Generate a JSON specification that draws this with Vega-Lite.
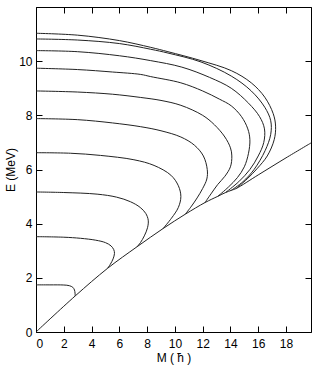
{
  "$schema": "https://vega.github.io/schema/vega-lite/v6.json",
  "autosize": {"type": "none"},
  "padding": {"left": 36, "top": 7, "right": 8, "bottom": 38},
  "width": 275,
  "height": 325,
  "data": {"values": [
    {"curve":0,"i":0,"M":0,"E":0},{"curve":0,"i":1,"M":2.82,"E":1.33},{"curve":0,"i":2,"M":5.15,"E":2.35},{"curve":0,"i":3,"M":7.28,"E":3.15},{"curve":0,"i":4,"M":9.15,"E":3.82},{"curve":0,"i":5,"M":10.75,"E":4.35},{"curve":0,"i":6,"M":12.17,"E":4.78},{"curve":0,"i":7,"M":13.09,"E":5.01},{"curve":0,"i":8,"M":13.65,"E":5.15},{"curve":0,"i":9,"M":14.06,"E":5.23},{"curve":0,"i":10,"M":14.42,"E":5.30},{"curve":0,"i":11,"M":16,"E":5.8},{"curve":0,"i":12,"M":18,"E":6.43},{"curve":0,"i":13,"M":19.8,"E":6.98},
    {"curve":1,"i":0,"M":0,"E":1.74},{"curve":1,"i":1,"M":1,"E":1.74},{"curve":1,"i":2,"M":2,"E":1.735},{"curve":1,"i":3,"M":2.4,"E":1.71},{"curve":1,"i":4,"M":2.65,"E":1.65},{"curve":1,"i":5,"M":2.77,"E":1.55},{"curve":1,"i":6,"M":2.81,"E":1.44},{"curve":1,"i":7,"M":2.82,"E":1.33},
    {"curve":2,"i":0,"M":0,"E":3.52},{"curve":2,"i":1,"M":2,"E":3.5},{"curve":2,"i":2,"M":3.2,"E":3.46},{"curve":2,"i":3,"M":4.3,"E":3.39},{"curve":2,"i":4,"M":5.0,"E":3.3},{"curve":2,"i":5,"M":5.4,"E":3.18},{"curve":2,"i":6,"M":5.6,"E":3.04},{"curve":2,"i":7,"M":5.65,"E":2.9},{"curve":2,"i":8,"M":5.55,"E":2.7},{"curve":2,"i":9,"M":5.35,"E":2.5},{"curve":2,"i":10,"M":5.15,"E":2.35},
    {"curve":3,"i":0,"M":0,"E":5.17},{"curve":3,"i":1,"M":2,"E":5.15},{"curve":3,"i":2,"M":4.4,"E":5.09},{"curve":3,"i":3,"M":5.8,"E":4.98},{"curve":3,"i":4,"M":6.8,"E":4.81},{"curve":3,"i":5,"M":7.5,"E":4.6},{"curve":3,"i":6,"M":7.9,"E":4.38},{"curve":3,"i":7,"M":8.08,"E":4.13},{"curve":3,"i":8,"M":8.03,"E":3.85},{"curve":3,"i":9,"M":7.8,"E":3.55},{"curve":3,"i":10,"M":7.52,"E":3.3},{"curve":3,"i":11,"M":7.28,"E":3.15},
    {"curve":4,"i":0,"M":0,"E":6.62},{"curve":4,"i":1,"M":2.5,"E":6.6},{"curve":4,"i":2,"M":4.64,"E":6.52},{"curve":4,"i":3,"M":7.05,"E":6.36},{"curve":4,"i":4,"M":8.5,"E":6.15},{"curve":4,"i":5,"M":9.71,"E":5.79},{"curve":4,"i":6,"M":10.25,"E":5.4},{"curve":4,"i":7,"M":10.43,"E":5.0},{"curve":4,"i":8,"M":10.25,"E":4.6},{"curve":4,"i":9,"M":9.75,"E":4.2},{"curve":4,"i":10,"M":9.15,"E":3.82},
    {"curve":5,"i":0,"M":0,"E":7.88},{"curve":5,"i":1,"M":3,"E":7.84},{"curve":5,"i":2,"M":5.5,"E":7.72},{"curve":5,"i":3,"M":7.54,"E":7.58},{"curve":5,"i":4,"M":9,"E":7.43},{"curve":5,"i":5,"M":10.43,"E":7.2},{"curve":5,"i":6,"M":11.4,"E":6.9},{"curve":5,"i":7,"M":12.05,"E":6.5},{"curve":5,"i":8,"M":12.33,"E":6.0},{"curve":5,"i":9,"M":12.3,"E":5.65},{"curve":5,"i":10,"M":12.0,"E":5.3},{"curve":5,"i":11,"M":11.6,"E":4.95},{"curve":5,"i":12,"M":11.2,"E":4.65},{"curve":5,"i":13,"M":10.75,"E":4.35},
    {"curve":6,"i":0,"M":0,"E":8.9},{"curve":6,"i":1,"M":3,"E":8.86},{"curve":6,"i":2,"M":5.5,"E":8.78},{"curve":6,"i":3,"M":7.54,"E":8.66},{"curve":6,"i":4,"M":9,"E":8.55},{"curve":6,"i":5,"M":10.43,"E":8.37},{"curve":6,"i":6,"M":12,"E":8.0},{"curve":6,"i":7,"M":12.85,"E":7.65},{"curve":6,"i":8,"M":13.6,"E":7.2},{"curve":6,"i":9,"M":14.0,"E":6.8},{"curve":6,"i":10,"M":14.1,"E":6.5},{"curve":6,"i":11,"M":14.0,"E":6.1},{"curve":6,"i":12,"M":13.6,"E":5.75},{"curve":6,"i":13,"M":13.09,"E":5.45},{"curve":6,"i":14,"M":12.6,"E":5.1},{"curve":6,"i":15,"M":12.17,"E":4.78},
    {"curve":7,"i":0,"M":0,"E":9.74},{"curve":7,"i":1,"M":3,"E":9.69},{"curve":7,"i":2,"M":5.5,"E":9.6},{"curve":7,"i":3,"M":7.54,"E":9.51},{"curve":7,"i":4,"M":8.26,"E":9.43},{"curve":7,"i":5,"M":10.43,"E":9.2},{"curve":7,"i":6,"M":12,"E":8.9},{"curve":7,"i":7,"M":13.2,"E":8.6},{"curve":7,"i":8,"M":14.06,"E":8.35},{"curve":7,"i":9,"M":14.8,"E":7.95},{"curve":7,"i":10,"M":15.25,"E":7.5},{"curve":7,"i":11,"M":15.4,"E":7.1},{"curve":7,"i":12,"M":15.3,"E":6.6},{"curve":7,"i":13,"M":15.0,"E":6.1},{"curve":7,"i":14,"M":14.5,"E":5.7},{"curve":7,"i":15,"M":13.85,"E":5.35},{"curve":7,"i":16,"M":13.09,"E":5.01},
    {"curve":8,"i":0,"M":0,"E":10.39},{"curve":8,"i":1,"M":3,"E":10.35},{"curve":8,"i":2,"M":6,"E":10.2},{"curve":8,"i":3,"M":8.26,"E":10.02},{"curve":8,"i":4,"M":10.5,"E":9.78},{"curve":8,"i":5,"M":12.5,"E":9.4},{"curve":8,"i":6,"M":14.06,"E":9.0},{"curve":8,"i":7,"M":15.3,"E":8.45},{"curve":8,"i":8,"M":16.1,"E":7.95},{"curve":8,"i":9,"M":16.45,"E":7.5},{"curve":8,"i":10,"M":16.4,"E":7.0},{"curve":8,"i":11,"M":16.0,"E":6.5},{"curve":8,"i":12,"M":15.4,"E":6.0},{"curve":8,"i":13,"M":14.6,"E":5.55},{"curve":8,"i":14,"M":13.65,"E":5.15},
    {"curve":9,"i":0,"M":0,"E":10.82},{"curve":9,"i":1,"M":3,"E":10.78},{"curve":9,"i":2,"M":6,"E":10.65},{"curve":9,"i":3,"M":8.26,"E":10.44},{"curve":9,"i":4,"M":9.5,"E":10.3},{"curve":9,"i":5,"M":11.88,"E":9.97},{"curve":9,"i":6,"M":14.06,"E":9.45},{"curve":9,"i":7,"M":15.5,"E":8.9},{"curve":9,"i":8,"M":16.47,"E":8.3},{"curve":9,"i":9,"M":16.9,"E":7.8},{"curve":9,"i":10,"M":16.9,"E":7.3},{"curve":9,"i":11,"M":16.5,"E":6.7},{"curve":9,"i":12,"M":15.7,"E":6.0},{"curve":9,"i":13,"M":14.9,"E":5.55},{"curve":9,"i":14,"M":14.06,"E":5.23},
    {"curve":10,"i":0,"M":0,"E":11.03},{"curve":10,"i":1,"M":3,"E":10.96},{"curve":10,"i":2,"M":6,"E":10.76},{"curve":10,"i":3,"M":8.26,"E":10.51},{"curve":10,"i":4,"M":9.5,"E":10.35},{"curve":10,"i":5,"M":11.88,"E":10.02},{"curve":10,"i":6,"M":14.06,"E":9.65},{"curve":10,"i":7,"M":15.5,"E":9.2},{"curve":10,"i":8,"M":16.47,"E":8.67},{"curve":10,"i":9,"M":17.08,"E":8.06},{"curve":10,"i":10,"M":17.25,"E":7.6},{"curve":10,"i":11,"M":17.15,"E":7.1},{"curve":10,"i":12,"M":16.65,"E":6.5},{"curve":10,"i":13,"M":15.95,"E":6.05},{"curve":10,"i":14,"M":15.2,"E":5.65},{"curve":10,"i":15,"M":14.42,"E":5.3}
  ]},
  "resolve": {"axis": {"x": "independent", "y": "independent"}},
  "layer": [
    {
      "mark": {"type": "line", "interpolate": "catmull-rom", "color": "#222", "strokeWidth": 1},
      "encoding": {
        "x": {"field": "M", "type": "quantitative", "scale": {"domain": [0, 19.8], "nice": false},
              "axis": {"orient": "bottom", "title": "M ( ħ )", "grid": false, "tickColor": "black", "tickSize": -6, "domainColor": "black", "labelPadding": 12, "titlePadding": 3, "labelFont": "Liberation Sans", "labelFontSize": 12, "labelColor": "black", "titleFont": "Liberation Sans", "titleFontSize": 12, "titleFontWeight": "normal", "titleColor": "black"}},
        "y": {"field": "E", "type": "quantitative", "scale": {"domain": [0, 12], "nice": false},
              "axis": {"orient": "left", "title": "E (MeV)", "grid": false, "tickCount": 6, "tickColor": "black", "tickSize": -6, "domainColor": "black", "labelPadding": 10, "titlePadding": 1, "labelExpr": "datum.value >= 12 ? '' : datum.label", "labelFont": "Liberation Sans", "labelFontSize": 12, "labelColor": "black", "titleFont": "Liberation Sans", "titleFontSize": 12, "titleFontWeight": "normal", "titleColor": "black"}},
        "detail": {"field": "curve", "type": "nominal"},
        "order": {"field": "i", "type": "quantitative"}
      }
    },
    {
      "mark": {"type": "point", "opacity": 0},
      "encoding": {
        "x": {"field": "M", "type": "quantitative", "axis": {"orient": "top", "title": null, "labels": false, "grid": false, "tickColor": "black", "tickSize": -6, "domainColor": "black"}},
        "y": {"field": "E", "type": "quantitative", "axis": {"orient": "right", "title": null, "labels": false, "grid": false, "tickCount": 6, "tickColor": "black", "tickSize": -6, "domainColor": "black"}}
      }
    }
  ]
}
